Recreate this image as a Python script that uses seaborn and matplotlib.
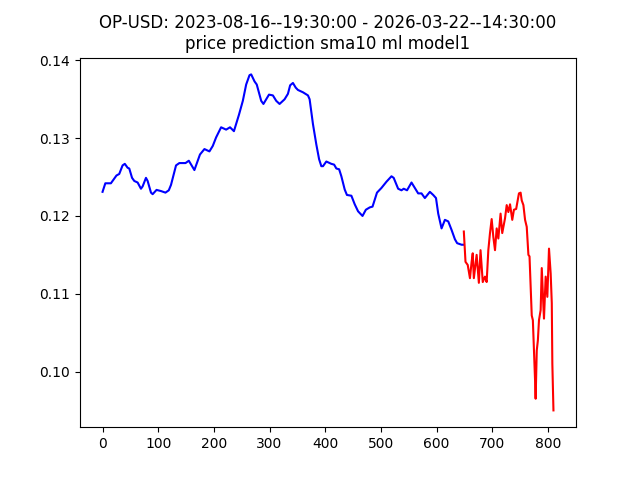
import matplotlib
matplotlib.use("Agg")
import matplotlib.pyplot as plt
import seaborn as sns
import pandas as pd

title = "OP-USD: 2023-08-16--19:30:00 - 2026-03-22--14:30:00\nprice prediction sma10 ml model1"

hist_x = [0, 5, 15, 25, 30, 36, 40, 45, 48, 53, 57, 63, 69, 72, 78, 81, 87, 90, 97, 105,
          113, 119, 123, 132, 138, 149, 155, 165, 175, 183, 192, 198, 204, 213, 222, 229,
          236, 245, 252, 258, 264, 267, 273, 277, 285, 289, 299, 306, 312, 318, 327, 333,
          337, 342, 347, 351, 360, 369, 372, 378, 384, 389, 393, 396, 402, 411, 416, 420,
          425, 429, 435, 439, 447, 453, 459, 467, 473, 480, 485, 493, 501, 510, 519, 523,
          531, 537, 541, 547, 555, 561, 567, 573, 579, 588, 594, 599, 603, 609, 615, 621,
          627, 633, 637, 645, 648]
hist_y = [0.1231, 0.1242, 0.1242, 0.1252, 0.1254, 0.1265, 0.1267, 0.1262, 0.1261, 0.1249,
          0.1245, 0.1243, 0.1235, 0.1238, 0.1249, 0.1245, 0.1230, 0.1228, 0.12335, 0.1232,
          0.1230, 0.1233, 0.1240, 0.1265, 0.1268, 0.1268, 0.1271, 0.1259, 0.1279, 0.1286,
          0.1283, 0.1290, 0.1301, 0.1314, 0.1311, 0.1314, 0.1309, 0.1330, 0.1348, 0.1369,
          0.1381, 0.1382, 0.1373, 0.1369, 0.1348, 0.1344, 0.1356, 0.1355, 0.1348, 0.1344,
          0.1350, 0.1357, 0.1368, 0.1371, 0.1365, 0.1362, 0.1359, 0.1355, 0.1350, 0.1318,
          0.1292, 0.1273, 0.1264, 0.1264, 0.1270, 0.1267, 0.1266, 0.1261, 0.1260, 0.1251,
          0.1234, 0.1227, 0.1226, 0.1215, 0.1206, 0.1200, 0.1208, 0.1211, 0.1212, 0.1230,
          0.1236, 0.1244, 0.1251, 0.1249, 0.1235, 0.1233, 0.1235, 0.1233, 0.1243, 0.1236,
          0.1229, 0.1229, 0.1223, 0.1231, 0.1227, 0.1223, 0.1203, 0.1184, 0.1195, 0.1193,
          0.1182, 0.1170, 0.1165, 0.1163, 0.1163]

pred_x = [649, 652, 656, 660, 663, 665, 667, 672, 676, 679, 683, 687, 690, 693, 696, 699,
          702, 705, 708, 711, 715, 718, 723, 726, 729, 732, 736, 739, 743, 745, 748, 751,
          753, 756, 759, 762, 765, 767, 771, 773, 775, 777, 778, 780, 782, 784, 787, 789,
          792, 793, 796, 799, 802, 805, 807, 808, 810]
pred_y = [0.1180, 0.1141, 0.1137, 0.1120, 0.1141, 0.1152, 0.1120, 0.1150, 0.1114, 0.1156,
          0.1115, 0.1122, 0.1115, 0.1156, 0.1178, 0.1196, 0.1173, 0.1156, 0.1184, 0.1171,
          0.1203, 0.1178, 0.1197, 0.1214, 0.1205, 0.1215, 0.1195, 0.1208, 0.1209, 0.1217,
          0.1229, 0.1230, 0.1220, 0.1214, 0.1195, 0.1186, 0.1150, 0.1148, 0.1072, 0.1066,
          0.1027, 0.0988, 0.0965, 0.1027, 0.1040, 0.1066, 0.1079, 0.1133, 0.1083, 0.1068,
          0.1122, 0.1096, 0.1158, 0.1126, 0.1088, 0.1010, 0.0950]

hist = pd.DataFrame({"x": hist_x, "y": hist_y})
pred = pd.DataFrame({"x": pred_x, "y": pred_y})

fig, ax = plt.subplots(figsize=(6.4, 4.8), dpi=100)
sns.lineplot(data=hist, x="x", y="y", ax=ax, color="blue", linewidth=1.5, estimator=None)
sns.lineplot(data=pred, x="x", y="y", ax=ax, color="red", linewidth=1.5, estimator=None)
ax.set_xlabel("")
ax.set_ylabel("")
ax.set_xticks([0, 100, 200, 300, 400, 500, 600, 700, 800])
ax.set_yticks([0.10, 0.11, 0.12, 0.13, 0.14])
ax.set_title(title)
fig.savefig("out.png")
